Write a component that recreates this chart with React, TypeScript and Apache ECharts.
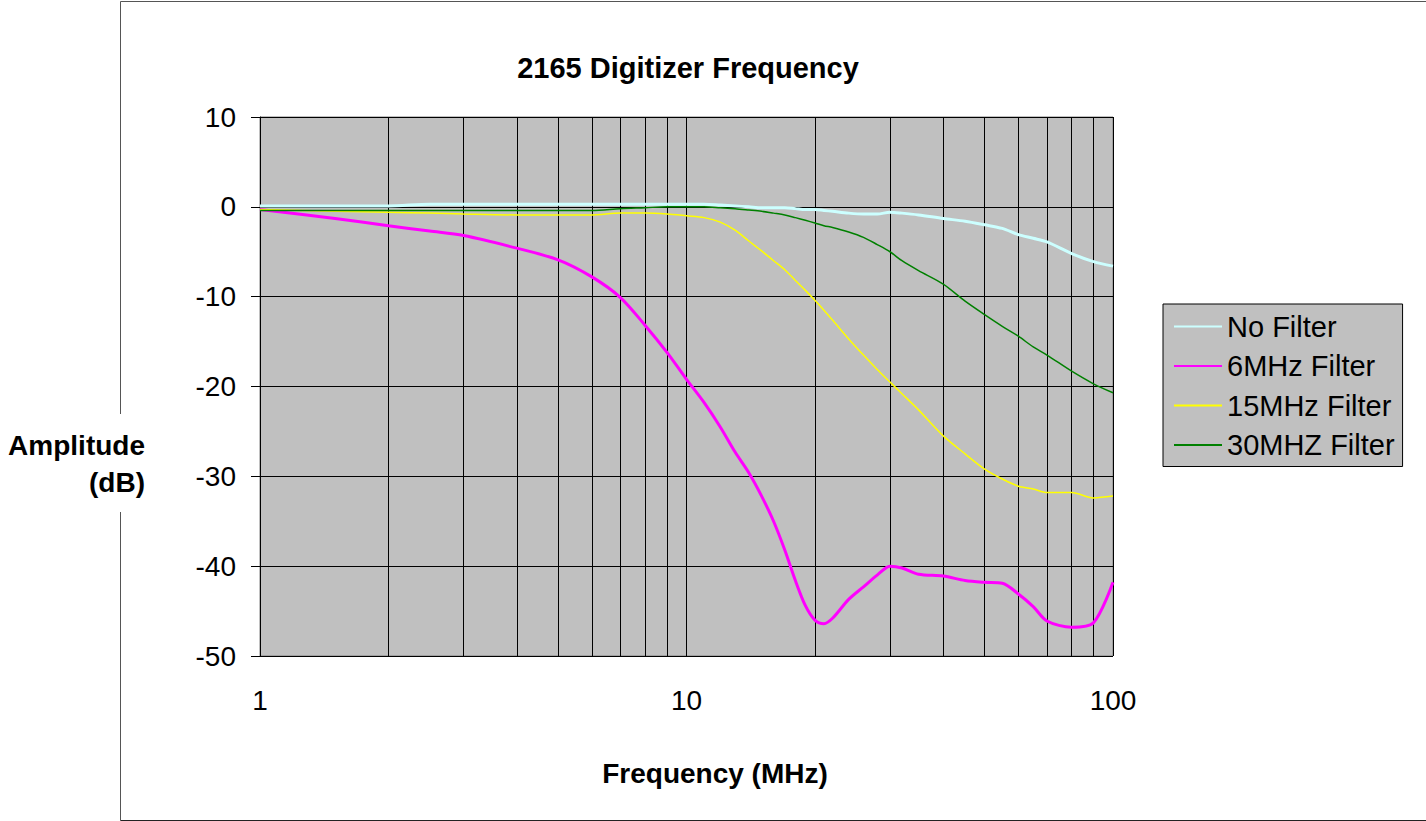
import React, { useEffect, useRef } from "react";
import * as echarts from "echarts";

const freqs = [1, 1.5, 2, 2.5, 3, 4, 5, 6, 7, 8, 9, 10, 11, 12, 13, 14, 15, 16, 17, 18, 19, 20, 21, 22, 24, 26, 28, 30, 32, 35, 40, 45, 50, 55, 60, 65, 70, 80, 90, 100];

const noFilter = [0.1, 0.1, 0.1, 0.3, 0.3, 0.3, 0.3, 0.3, 0.3, 0.3, 0.3, 0.3, 0.3, 0.2, 0.1, 0.0, -0.1, -0.1, -0.1, -0.2, -0.3, -0.3, -0.4, -0.5, -0.7, -0.8, -0.8, -0.6, -0.7, -0.9, -1.3, -1.6, -2.0, -2.4, -3.1, -3.5, -3.9, -5.2, -6.1, -6.6];
const filter6 = [-0.3, -1.3, -2.1, -2.7, -3.2, -4.6, -5.9, -7.8, -10.1, -13.2, -16.2, -19.2, -21.8, -24.5, -27.3, -29.6, -32.2, -35.0, -38.2, -41.6, -44.4, -46.0, -46.4, -45.8, -43.7, -42.3, -41.0, -40.0, -40.2, -40.9, -41.1, -41.6, -41.8, -41.9, -43.1, -44.5, -46.1, -46.8, -46.3, -41.8];
const filter15 = [-0.3, -0.5, -0.6, -0.7, -0.8, -0.9, -0.9, -0.9, -0.7, -0.7, -0.8, -1.0, -1.2, -1.7, -2.6, -3.8, -4.9, -6.0, -7.0, -8.2, -9.3, -10.4, -11.5, -12.6, -14.7, -16.5, -18.1, -19.5, -20.8, -22.6, -25.5, -27.5, -29.2, -30.3, -31.1, -31.4, -31.8, -31.8, -32.4, -32.2];
const filter30 = [-0.4, -0.4, -0.4, -0.4, -0.4, -0.4, -0.4, -0.4, -0.2, -0.1, 0.0, 0.0, 0.0, -0.1, -0.2, -0.35, -0.5, -0.7, -0.9, -1.2, -1.5, -1.8, -2.1, -2.3, -2.8, -3.4, -4.2, -5.0, -6.0, -7.1, -8.6, -10.5, -12.0, -13.3, -14.4, -15.6, -16.5, -18.3, -19.7, -20.7];

const minorGridFreqs = [2, 3, 4, 5, 6, 7, 8, 9, 20, 30, 40, 50, 60, 70, 80, 90];
const yTicks = { min: -50, max: 10, interval: 10 };
const seriesNames = ["No Filter", "6MHz Filter", "15MHz Filter", "30MHZ Filter"];
const seriesColors = ["#ccffff", "#ff00ff", "#ffff00", "#008000"];
const seriesWidths = [3, 3, 1.5, 1.5];

const FONT = "'Liberation Sans', Arial, sans-serif";

export default function App() {
  const ref = useRef<HTMLDivElement>(null);
  useEffect(() => {
    if (!ref.current) return;
    const chart = echarts.init(ref.current, null, { renderer: "svg" });
    const seriesData = [noFilter, filter6, filter15, filter30];
    const lineSeries = seriesData.map((vals, i) => ({
      name: seriesNames[i],
      type: "line",
      data: freqs.map((f, j) => [f, vals[j]]),
      symbol: "none",
      smooth: 0.3,
      z: 5,
      lineStyle: { color: seriesColors[i], width: seriesWidths[i] },
      itemStyle: { color: seriesColors[i] },
    }));
    const option: any = {
      animation: false,
      backgroundColor: "#ffffff",
      textStyle: { fontFamily: FONT },
      grid: {
        left: 260,
        top: 117,
        width: 853,
        height: 539,
        show: true,
        backgroundColor: "#c0c0c0",
        borderColor: "#808080",
        borderWidth: 1,
        containLabel: false,
        outerBoundsMode: "none",
      },
      xAxis: {
        type: "log",
        logBase: 10,
        min: 1,
        max: 100,
        axisLine: { show: true, lineStyle: { color: "#000", width: 1 } },
        axisTick: { show: true, length: 8, lineStyle: { color: "#000" } },
        axisLabel: {
          color: "#000",
          fontSize: 28,
          fontFamily: FONT,
          margin: 30,
          formatter: (v: number) => String(Math.round(v)),
        },
        splitLine: { show: true, lineStyle: { color: "#000", width: 1 } },
        minorTick: { show: false },
        minorSplitLine: { show: false },
      },
      yAxis: {
        type: "value",
        min: yTicks.min,
        max: yTicks.max,
        interval: yTicks.interval,
        axisLine: { show: true, lineStyle: { color: "#000", width: 1 } },
        axisTick: { show: true, length: 9, lineStyle: { color: "#000" } },
        axisLabel: { color: "#000", fontSize: 28, fontFamily: FONT, margin: 24 },
        splitLine: { show: true, lineStyle: { color: "#000", width: 1 } },
      },
      legend: {
        data: seriesNames,
        orient: "vertical",
        left: 1163,
        top: 304,
        padding: [8, 8, 7, 10],
        itemWidth: 48,
        itemHeight: 14,
        itemGap: 10.5,
        itemStyle: { opacity: 0, borderWidth: 0 },
        backgroundColor: "#c0c0c0",
        borderColor: "#000",
        borderWidth: 1,
        borderRadius: 0,
        textStyle: { color: "#000", fontSize: 29, fontFamily: FONT },
        selectedMode: false,
      },
      series: [
        {
          name: "grid-minor",
          type: "line",
          data: [],
          z: 1,
          silent: true,
          markLine: {
            silent: true,
            symbol: ["none", "none"],
            label: { show: false },
            lineStyle: { color: "#000", type: "solid", width: 1 },
            emphasis: { disabled: true },
            data: minorGridFreqs.map((f) => ({ xAxis: f })),
          },
        },
        ...lineSeries,
      ],
      graphic: [
        { type: "line", shape: { x1: 120.5, y1: 1.5, x2: 1426, y2: 1.5 }, style: { stroke: "#555", lineWidth: 1 } },
        { type: "line", shape: { x1: 120.5, y1: 1.5, x2: 120.5, y2: 414 }, style: { stroke: "#555", lineWidth: 1 } },
        { type: "line", shape: { x1: 120.5, y1: 512, x2: 120.5, y2: 820.5 }, style: { stroke: "#555", lineWidth: 1 } },
        { type: "line", shape: { x1: 120.5, y1: 820.5, x2: 1426, y2: 820.5 }, style: { stroke: "#222", lineWidth: 1 } },
        {
          type: "text",
          x: 688,
          y: 68,
          style: { text: "2165 Digitizer Frequency", fontSize: 29, fontWeight: "bold", fontFamily: FONT, fill: "#000", align: "center", verticalAlign: "middle" },
        },
        {
          type: "text",
          x: 145,
          y: 445,
          style: { text: "Amplitude", fontSize: 28, fontWeight: "bold", fontFamily: FONT, fill: "#000", align: "right", verticalAlign: "middle" },
        },
        {
          type: "text",
          x: 145,
          y: 482,
          style: { text: "(dB)", fontSize: 28, fontWeight: "bold", fontFamily: FONT, fill: "#000", align: "right", verticalAlign: "middle" },
        },
        {
          type: "text",
          x: 715,
          y: 773,
          style: { text: "Frequency (MHz)", fontSize: 28, fontWeight: "bold", fontFamily: FONT, fill: "#000", align: "center", verticalAlign: "middle" },
        },
      ],
    };
    chart.setOption(option);
    return () => chart.dispose();
  }, []);
  return <div ref={ref} style={{ position: "absolute", left: 0, top: 0, width: 1426, height: 821 }} />;
}
